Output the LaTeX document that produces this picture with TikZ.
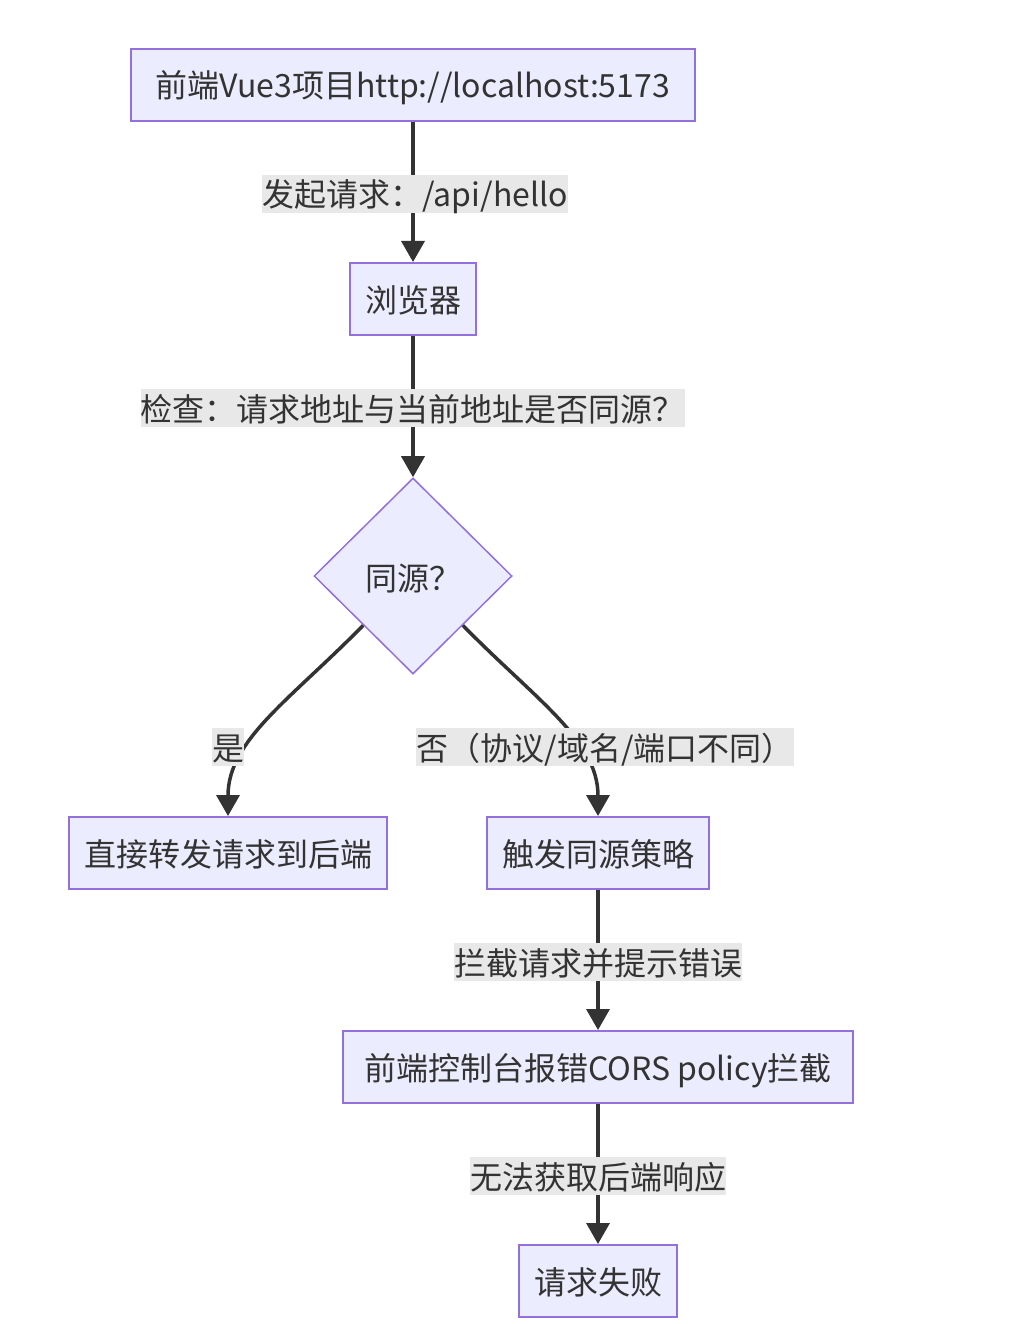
\documentclass[tikz,border=0pt]{standalone}
\usepackage{fontspec}
\setmainfont{Noto Sans CJK SC}
\usetikzlibrary{shapes.geometric,arrows.meta}
\definecolor{nfill}{HTML}{ECECFF}
\definecolor{nline}{HTML}{9370DB}
\definecolor{eline}{HTML}{333333}
\definecolor{lbg}{HTML}{E8E8E8}
\begin{document}
\begin{tikzpicture}[x=1pt,y=-1pt,
  font=\fontsize{32}{38}\selectfont,
  box/.style={draw=nline, line width=2pt, fill=nfill, inner xsep=15pt, inner ysep=0pt,
    minimum height=72pt, text=eline, text height=29pt, text depth=3pt},
  dia/.style={diamond, draw=nline, line width=1.5pt, fill=nfill, inner sep=0pt,
    minimum width=198pt, minimum height=196pt, text=eline},
  lbl/.style={fill=lbg, inner xsep=0pt, inner ysep=0pt, minimum height=38pt, text=eline,
    text height=29pt, text depth=3pt},
  edge/.style={draw=eline, line width=3.5pt, -{Triangle[width=23pt,length=21pt]}}]
\useasboundingbox[fill=white] (0,0) rectangle (1014,1324);

\node[box, minimum width=564pt] (n1) at (413,85) {前端Vue3项目http://localhost:5173};
\node[box] (n2) at (413,299) {浏览器};
\node[dia] (d) at (413,576) {};
\node[text=eline, text height=29pt, text depth=3pt, inner sep=0pt] (dt) at (413,577) {同源？};
\node[box] (yes) at (228,853) {直接转发请求到后端};
\node[box] (no) at (598,853) {触发同源策略};
\node[box, minimum width=510pt] (n6) at (598,1067) {前端控制台报错CORS policy拦截};
\node[box] (n7) at (598,1281) {请求失败};

\draw[edge] (n1) -- (n2);
\draw[edge] (n2) -- (d);
\draw[edge] (d.south west) .. controls (290,700) and (228,740) .. (yes.north);
\draw[edge] (d.south east) .. controls (536,700) and (598,740) .. (no.north);
\draw[edge] (no) -- (n6);
\draw[edge] (n6) -- (n7);

\node[lbl] (l1) at (415,194) {发起请求：/api/hello};
\node[lbl] (l2) at (412.5,408) {检查：请求地址与当前地址是否同源？};
\node[lbl] (l3) at (228,747) {是};
\node[lbl] (l4) at (605,747) {否（协议/域名/端口不同）};
\node[lbl] (l5) at (598,962) {拦截请求并提示错误};
\node[lbl] (l6) at (598,1176) {无法获取后端响应};
\end{tikzpicture}
\end{document}
